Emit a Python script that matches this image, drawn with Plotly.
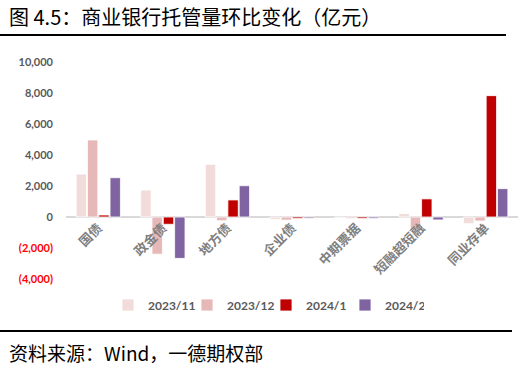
import plotly.graph_objects as go

categories = ["国债", "政金债", "地方债", "企业债", "中期票据", "短融超短融", "同业存单"]
series_names = ["2023/11", "2023/12", "2024/1", "2024/2"]
v_2023_11 = [2770, 1740, 3400, -150, -60, 220, -430]
v_2023_12 = [4970, -2400, -240, -200, -80, -790, -260]
v_2024_01 = [130, -470, 1100, -100, -100, 1170, 7830]
v_2024_02 = [2535, -2670, 2020, -80, -90, -190, 1830]
colors = ["#F2DCDB", "#E6B9B8", "#C00000", "#8064A2"]
y_min, y_max = -4000, 10000
tick_vals = [-4000, -2000, 0, 2000, 4000, 6000, 8000, 10000]
tick_text = ["<span style='color:#FF0000'>(4,000)</span>", "<span style='color:#FF0000'>(2,000)</span>",
             "0", "2,000", "4,000", "6,000", "8,000", "10,000"]

fig = go.Figure()
for name, vals, c in zip(series_names, [v_2023_11, v_2023_12, v_2024_01, v_2024_02], colors):
    fig.add_trace(go.Bar(x=categories, y=vals, name=name,
                         marker=dict(color=c, line=dict(color="white", width=0.8))))

L, T, W, H = 66, 62, 452, 217
def px(x): return (x - L) / W
def py(y): return (T + H - y) / H

fig.update_layout(
    width=518, height=369,
    margin=dict(l=L, r=518 - L - W, t=T, b=369 - T - H, autoexpand=False),
    paper_bgcolor="white", plot_bgcolor="white",
    barmode="group", bargap=0.3, bargroupgap=0.08,
    font=dict(family="Noto Sans CJK SC, Lato, sans-serif", color="#595959"),
    showlegend=True,
    legend=dict(orientation="h", x=px(266), xanchor="center", y=py(305), yanchor="middle",
                font=dict(size=12, color="#595959", family="Lato, Noto Sans CJK SC", weight="bold"),
                itemwidth=30, entrywidth=34, entrywidthmode="pixels", traceorder="normal"),
    xaxis=dict(tickangle=-45, tickfont=dict(size=13, color="#7F7F7F", weight="bold"), showline=False,
               showgrid=False, ticks="", anchor="free", position=(0 - y_min) / (y_max - y_min),
               automargin=False),
    yaxis=dict(range=[y_min, y_max], tickvals=tick_vals, ticktext=tick_text, showgrid=False,
               zeroline=True, zerolinecolor="#D9D9D9", zerolinewidth=1.5,
               tickfont=dict(size=11, color="#595959", family="Lato, sans-serif", weight="bold"),
               ticks="", ticklabelstandoff=12, automargin=False),
    shapes=[
        dict(type="line", xref="paper", yref="paper", x0=px(0), x1=px(506), y0=py(35), y1=py(35),
             line=dict(color="black", width=2)),
        dict(type="line", xref="paper", yref="paper", x0=px(0), x1=px(512), y0=py(331), y1=py(331),
             line=dict(color="black", width=2)),
    ],
    annotations=[
        dict(text="图 4.5：商业银行托管量环比变化（亿元）", xref="paper", yref="paper", x=px(7), y=py(16),
             xanchor="left", yanchor="middle", showarrow=False,
             font=dict(size=20, color="black", family="Noto Sans CJK SC")),
        dict(text="资料来源：Wind，一德期权部", xref="paper", yref="paper", x=px(7), y=py(352),
             xanchor="left", yanchor="middle", showarrow=False,
             font=dict(size=19, color="black", family="Noto Sans CJK SC")),
    ],
)
fig.write_html("out.html", config={"displayModeBar": False},
               post_script="document.body.style.margin='0';document.body.style.overflow='hidden';")
